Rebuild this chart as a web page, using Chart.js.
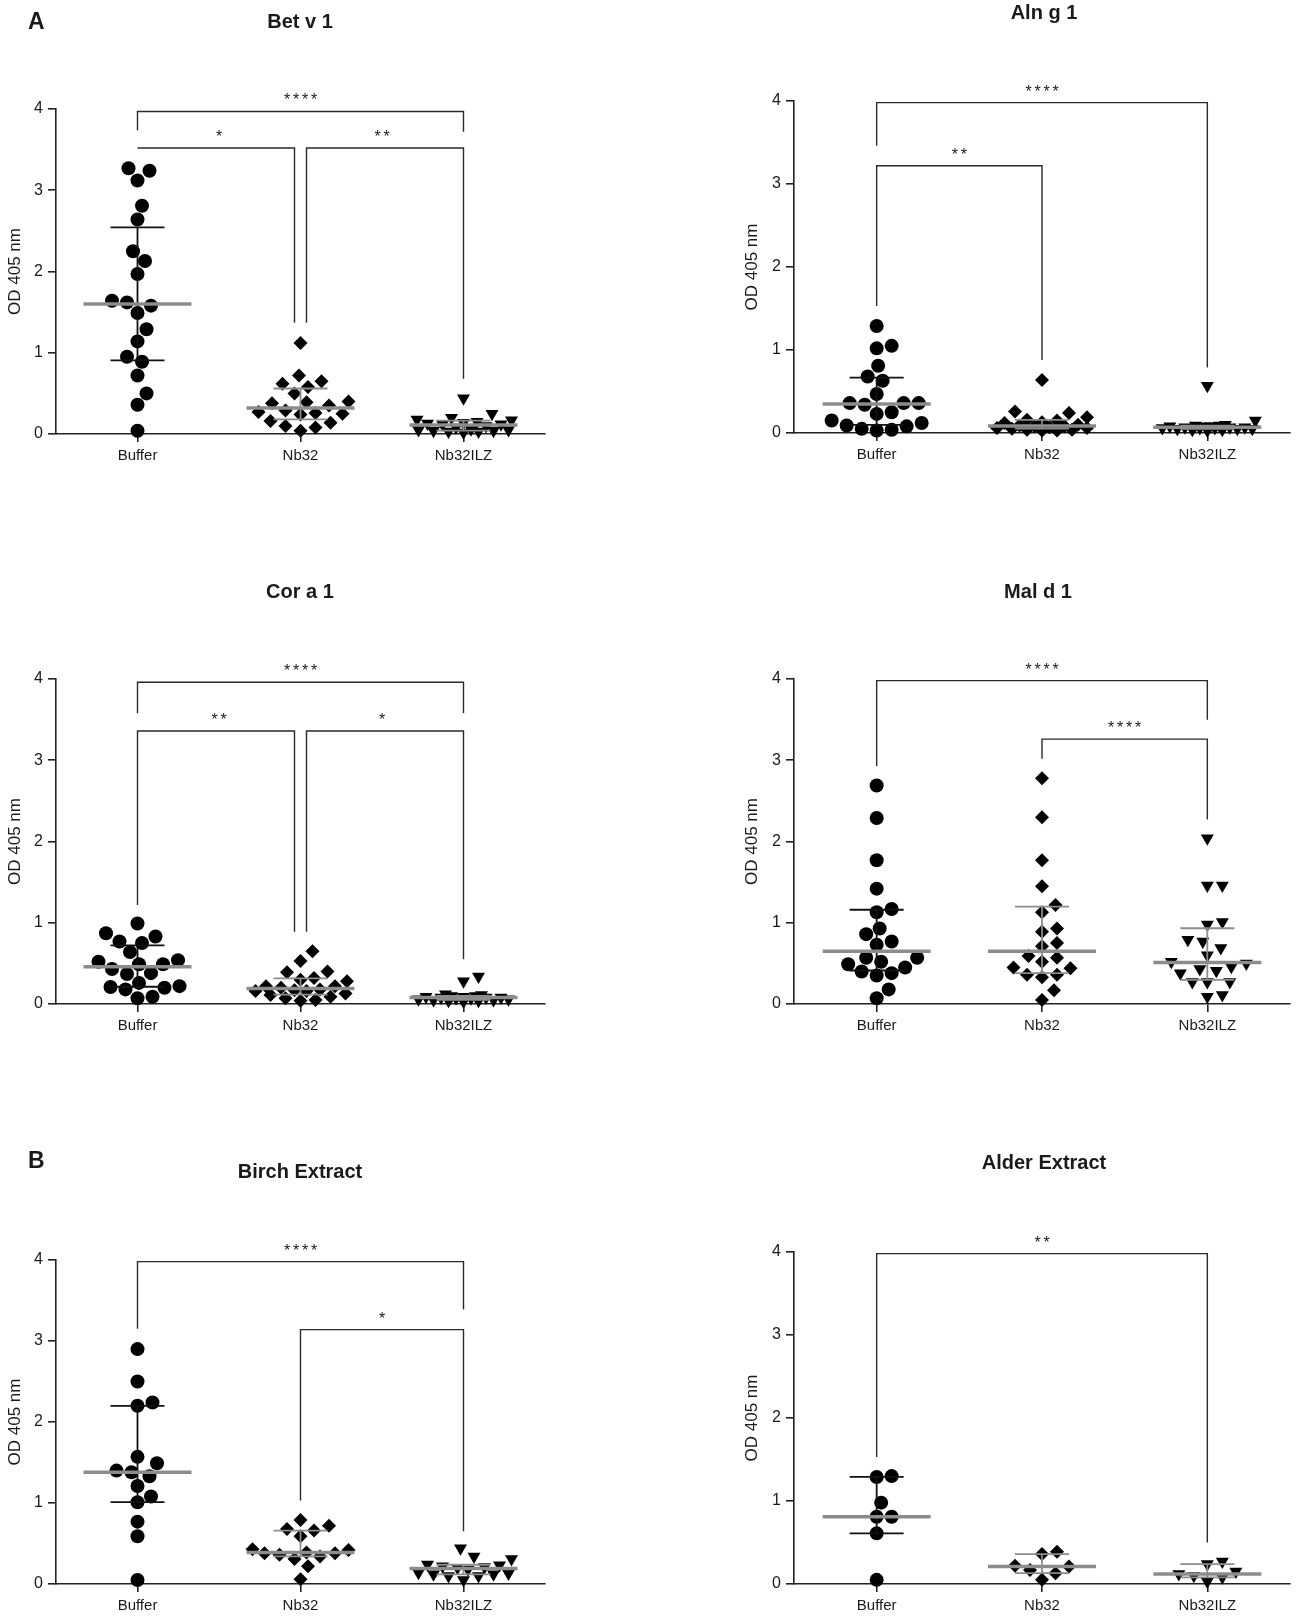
<!DOCTYPE html>
<html>
<head>
<meta charset="utf-8">
<script src="https://cdn.jsdelivr.net/npm/chart.js@4.4.0/dist/chart.umd.min.js"></script>
<style>
  body { margin: 0; background: #fff; width: 1299px; height: 1619px; position: relative; overflow: hidden;
         font-family: "Liberation Sans", Arial, sans-serif; color: #1a1a1a; }
  canvas { position: absolute; }
  .ttl { position: absolute; width: 300px; text-align: center; font-weight: bold; font-size: 20px; line-height: 24px; z-index: 2; }
  .lbl { position: absolute; font-weight: bold; font-size: 23px; line-height: 26px; z-index: 2; }
</style>
</head>
<body>
<div class="lbl" style="left:28px; top:8px;">A</div>
<div class="lbl" style="left:28px; top:1147px;">B</div>

<script>
var categories = ['Buffer', 'Nb32', 'Nb32ILZ'];
var yTicks = [0, 1, 2, 3, 4];
var yAxisTitle = 'OD 405 nm';

// values, one array per group
var betBuffer = [3.27, 3.24, 3.12, 2.81, 2.64, 2.25, 2.13, 1.97, 1.64, 1.62, 1.58, 1.49, 1.29, 1.14, 0.95, 0.89, 0.72, 0.50, 0.36, 0.04];
var betNb32 = [1.12, 0.72, 0.65, 0.62, 0.58, 0.50, 0.40, 0.39, 0.38, 0.35, 0.29, 0.27, 0.26, 0.25, 0.24, 0.16, 0.14, 0.10, 0.08, 0.04];
var betIlz = [0.44, 0.25, 0.20, 0.18, 0.17, 0.15, 0.14, 0.13, 0.12, 0.12, 0.10, 0.08, 0.06, 0.05, 0.05, 0.04, 0.04, 0.03, 0.03, 0.02];

var alnBuffer = [1.29, 1.05, 1.02, 0.81, 0.68, 0.63, 0.47, 0.36, 0.36, 0.36, 0.34, 0.25, 0.23, 0.15, 0.12, 0.09, 0.08, 0.05, 0.04, 0.03];
var alnNb32 = [0.64, 0.26, 0.24, 0.19, 0.16, 0.15, 0.13, 0.12, 0.10, 0.09, 0.08, 0.08, 0.07, 0.06, 0.06, 0.05, 0.04, 0.04, 0.03, 0.03];
var alnIlz = [0.57, 0.15, 0.10, 0.09, 0.09, 0.08, 0.08, 0.08, 0.07, 0.07, 0.07, 0.06, 0.06, 0.06, 0.05, 0.05, 0.05, 0.04, 0.04, 0.03];

var corBuffer = [0.99, 0.87, 0.83, 0.77, 0.75, 0.64, 0.54, 0.52, 0.49, 0.49, 0.43, 0.38, 0.37, 0.26, 0.22, 0.21, 0.20, 0.18, 0.09, 0.07];
var corNb32 = [0.65, 0.53, 0.40, 0.39, 0.32, 0.30, 0.28, 0.22, 0.22, 0.20, 0.18, 0.17, 0.16, 0.16, 0.13, 0.11, 0.09, 0.07, 0.05, 0.04];
var corIlz = [0.34, 0.28, 0.12, 0.11, 0.10, 0.10, 0.09, 0.09, 0.08, 0.08, 0.08, 0.07, 0.07, 0.06, 0.06, 0.05, 0.05, 0.04, 0.04, 0.03];

var malBuffer = [2.69, 2.29, 1.77, 1.42, 1.17, 1.13, 0.93, 0.86, 0.77, 0.73, 0.57, 0.57, 0.52, 0.49, 0.45, 0.40, 0.38, 0.35, 0.18, 0.07];
var malNb32 = [2.78, 2.30, 1.77, 1.45, 1.22, 1.13, 0.93, 0.89, 0.75, 0.71, 0.59, 0.57, 0.52, 0.45, 0.44, 0.36, 0.36, 0.33, 0.17, 0.05];
var malIlz = [2.04, 1.46, 1.46, 1.01, 0.98, 0.79, 0.77, 0.69, 0.60, 0.52, 0.50, 0.46, 0.43, 0.41, 0.38, 0.27, 0.27, 0.27, 0.11, 0.09];

var birchBuffer = [2.90, 2.50, 2.24, 2.20, 1.57, 1.49, 1.40, 1.38, 1.33, 1.21, 1.08, 1.01, 0.77, 0.59, 0.05];
var birchNb32 = [0.79, 0.72, 0.68, 0.66, 0.59, 0.43, 0.42, 0.39, 0.38, 0.38, 0.36, 0.34, 0.31, 0.22, 0.06];
var birchIlz = [0.44, 0.34, 0.31, 0.24, 0.23, 0.22, 0.21, 0.20, 0.18, 0.14, 0.13, 0.12, 0.12, 0.10, 0.10, 0.05];

var alderBuffer = [1.30, 1.29, 0.98, 0.81, 0.81, 0.61, 0.05];
var alderNb32 = [0.39, 0.36, 0.22, 0.21, 0.17, 0.13, 0.05];
var alderIlz = [0.27, 0.24, 0.15, 0.12, 0.10, 0.08, 0.03];

// brackets: [from group, to group, line level, left leg end, right leg end, label]
var betBrackets = [[0, 2, 3.97, 3.74, 3.72, '****'], [0, 1, 3.52, 3.52, 1.37, '*'], [1, 2, 3.52, 1.37, 0.68, '**']];
var alnBrackets = [[0, 2, 3.98, 3.46, 0.79, '****'], [0, 1, 3.22, 1.53, 0.88, '**']];
var corBrackets = [[0, 2, 3.96, 3.58, 3.58, '****'], [0, 1, 3.36, 1.22, 0.89, '**'], [1, 2, 3.36, 0.89, 0.55, '*']];
var malBrackets = [[0, 2, 3.98, 2.93, 3.50, '****'], [1, 2, 3.26, 3.02, 2.27, '****']];
var birchBrackets = [[0, 2, 3.98, 3.15, 3.39, '****'], [1, 2, 3.14, 1.03, 0.65, '*']];
var alderBrackets = [[0, 2, 3.98, 1.53, 0.50, '**']];

var FONT = '"Liberation Sans", Arial, sans-serif';
var INK = '#1a1a1a';
var GREY = '#8c8c8c';
var shapes = ['circle', 'rectRot', 'triangle'];
var rotations = [0, 0, 180];

// layout (pixels)
var leftCol = { colLeft: 0, axisX: 56, rightX: 545, width: 560 };
var rightCol = { colLeft: 740, axisX: 794, rightX: 1290, width: 559 };

var panels = [
    { title: 'Bet v 1', tx: 300, ty: 21, col: leftCol, top4: 109, bottom0: 434, groups: [betBuffer, betNb32, betIlz], brackets: betBrackets },
    { title: 'Aln g 1', tx: 1044, ty: 12, col: rightCol, top4: 101, bottom0: 433, groups: [alnBuffer, alnNb32, alnIlz], brackets: alnBrackets },
    { title: 'Cor a 1', tx: 300, ty: 591, col: leftCol, top4: 679, bottom0: 1004, groups: [corBuffer, corNb32, corIlz], brackets: corBrackets },
    { title: 'Mal d 1', tx: 1038, ty: 591, col: rightCol, top4: 679, bottom0: 1004, groups: [malBuffer, malNb32, malIlz], brackets: malBrackets },
    { title: 'Birch Extract', tx: 300, ty: 1171, col: leftCol, top4: 1260, bottom0: 1584, groups: [birchBuffer, birchNb32, birchIlz], brackets: birchBrackets },
    { title: 'Alder Extract', tx: 1044, ty: 1162, col: rightCol, top4: 1252, bottom0: 1584, groups: [alderBuffer, alderNb32, alderIlz], brackets: alderBrackets }
];

function quantile(sorted, p) {
    var pos = (sorted.length + 1) * p - 1;
    if (pos <= 0) return sorted[0];
    if (pos >= sorted.length - 1) return sorted[sorted.length - 1];
    var lo = Math.floor(pos);
    return sorted[lo] + (pos - lo) * (sorted[lo + 1] - sorted[lo]);
}

// simple beeswarm: horizontal pixel offset per point, no overlap where it fits
function swarm(values, pxPerUnit) {
    var diam = 14.5, step = 1.5, maxOff = 48;
    var idx = values.map(function(v, i) { return i; });
    idx.sort(function(a, b) { return values[a] - values[b]; });
    var placed = [];
    var offs = [];
    idx.forEach(function(i) {
        var py = values[i] * pxPerUnit;
        var best = 0, bestD = -1, done = false;
        for (var k = 0; k * step <= maxOff && !done; k++) {
            var cands = k === 0 ? [0] : [k * step, -k * step];
            for (var c = 0; c < cands.length; c++) {
                var px = cands[c];
                var minD = Infinity;
                for (var j = 0; j < placed.length; j++) {
                    var d = Math.hypot(placed[j].x - px, placed[j].y - py);
                    if (d < minD) minD = d;
                }
                if (minD >= diam) { best = px; done = true; break; }
                if (minD > bestD + 0.5) { bestD = minD; best = px; }
            }
        }
        placed.push({ x: best, y: py });
        offs[i] = best;
    });
    return offs;
}

function buildPanel(p) {
    var col = p.col;
    var catW = (col.rightX - col.axisX) / 3;
    var pxU = (p.bottom0 - p.top4) / 4;
    var padTop = 100, xAxisH = 40;

    var canvas = document.createElement('canvas');
    canvas.width = col.width;
    canvas.height = p.bottom0 - p.top4 + padTop + xAxisH;
    canvas.style.left = col.colLeft + 'px';
    canvas.style.top = (p.top4 - padTop) + 'px';
    document.body.appendChild(canvas);

    var t = document.createElement('div');
    t.className = 'ttl';
    t.textContent = p.title;
    t.style.left = (p.tx - 150) + 'px';
    t.style.top = (p.ty - 12) + 'px';
    document.body.appendChild(t);

    var datasets = [];
    p.groups.forEach(function(values, g) {
        var offs = swarm(values, pxU);
        datasets.push({
            type: 'scatter',
            data: values.map(function(v, k) { return { x: g + offs[k] / catW, y: v }; }),
            pointStyle: shapes[g],
            rotation: rotations[g],
            pointRadius: g === 2 ? 7.5 : 7,
            pointHoverRadius: 7,
            backgroundColor: '#000',
            borderColor: '#000',
            borderWidth: 0,
            clip: false,
            order: 3
        });

        var sorted = values.slice().sort(function(a, b) { return a - b; });
        var med = quantile(sorted, 0.5);
        var q1 = quantile(sorted, 0.25);
        var q3 = quantile(sorted, 0.75);
        var cap = 27 / catW, half = 54 / catW;

        datasets.push({
            type: 'line',
            data: [{ x: g, y: q1 }, { x: g, y: q3 }, { x: g, y: null },
                   { x: g - cap, y: q1 }, { x: g + cap, y: q1 }, { x: g, y: null },
                   { x: g - cap, y: q3 }, { x: g + cap, y: q3 }],
            borderColor: g === 0 ? '#111' : GREY,
            borderWidth: 1.8,
            pointRadius: 0,
            spanGaps: false,
            clip: false,
            order: 2
        });
        datasets.push({
            type: 'line',
            data: [{ x: g - half, y: med }, { x: g + half, y: med }],
            borderColor: GREY,
            borderWidth: 3.5,
            pointRadius: 0,
            clip: false,
            order: 1
        });
    });

    // bracket ends meeting at the same level on a shared group are pulled apart a little
    var inset = 6 / catW;
    p.brackets.forEach(function(b, n) {
        var insL = 0, insR = 0;
        p.brackets.forEach(function(o, m) {
            if (m === n || o[2] !== b[2]) return;
            if (o[1] === b[0]) insL = inset;
            if (o[0] === b[1]) insR = inset;
        });
        datasets.push({
            type: 'line',
            data: [{ x: b[0] + insL, y: b[3] }, { x: b[0] + insL, y: b[2] },
                   { x: b[1] - insR, y: b[2] }, { x: b[1] - insR, y: b[4] }],
            borderColor: '#2a2a2a',
            borderWidth: 1.4,
            borderJoinStyle: 'miter',
            pointRadius: 0,
            clip: false,
            order: 0
        });
    });

    var starPlugin = {
        id: 'stars',
        afterDatasetsDraw: function(chart) {
            var ctx = chart.ctx;
            var xs = chart.scales.x, ys = chart.scales.y;
            ctx.save();
            ctx.fillStyle = INK;
            ctx.font = '16px ' + FONT;
            ctx.textAlign = 'center';
            ctx.textBaseline = 'alphabetic';
            p.brackets.forEach(function(b) {
                var cx = (xs.getPixelForValue(b[0]) + xs.getPixelForValue(b[1])) / 2;
                var y = ys.getPixelForValue(b[2]) - 6;
                var n = b[5].length, gap = 9;
                for (var i = 0; i < n; i++) {
                    ctx.fillText('*', cx + (i - (n - 1) / 2) * gap, y);
                }
            });
            ctx.restore();
        }
    };

    var axisGrid = { display: true, drawOnChartArea: false, drawTicks: true, tickLength: 8, color: '#222', lineWidth: 1.6 };
    var axisBorder = { display: true, color: '#222', width: 1.6 };

    new Chart(canvas, {
        type: 'scatter',
        data: { datasets: datasets },
        options: {
            responsive: false,
            animation: false,
            events: [],
            layout: { padding: { top: padTop, right: col.width - (col.rightX - col.colLeft), bottom: 0, left: 0 } },
            plugins: { legend: { display: false }, tooltip: { enabled: false } },
            scales: {
                x: {
                    type: 'linear', min: -0.5, max: 2.5,
                    afterBuildTicks: function(s) { s.ticks = categories.map(function(c, i) { return { value: i }; }); },
                    afterFit: function(s) { s.height = xAxisH; },
                    ticks: {
                        callback: function(v) { return categories[v]; },
                        font: { family: FONT, size: 15 }, color: INK, padding: 5, maxRotation: 0, autoSkip: false
                    },
                    grid: axisGrid,
                    border: axisBorder
                },
                y: {
                    min: 0, max: 4,
                    afterBuildTicks: function(s) { s.ticks = yTicks.map(function(v) { return { value: v }; }); },
                    afterFit: function(s) { s.width = col.axisX - col.colLeft; },
                    ticks: { font: { family: FONT, size: 16 }, color: INK, padding: 5 },
                    grid: axisGrid,
                    border: axisBorder,
                    title: {
                        display: true, text: yAxisTitle, color: INK,
                        font: { family: FONT, size: 17 },
                        padding: { top: col === leftCol ? 5 : 2, bottom: 0 }
                    }
                }
            }
        },
        plugins: [starPlugin]
    });
}

panels.forEach(buildPanel);
</script>
</body>
</html>
